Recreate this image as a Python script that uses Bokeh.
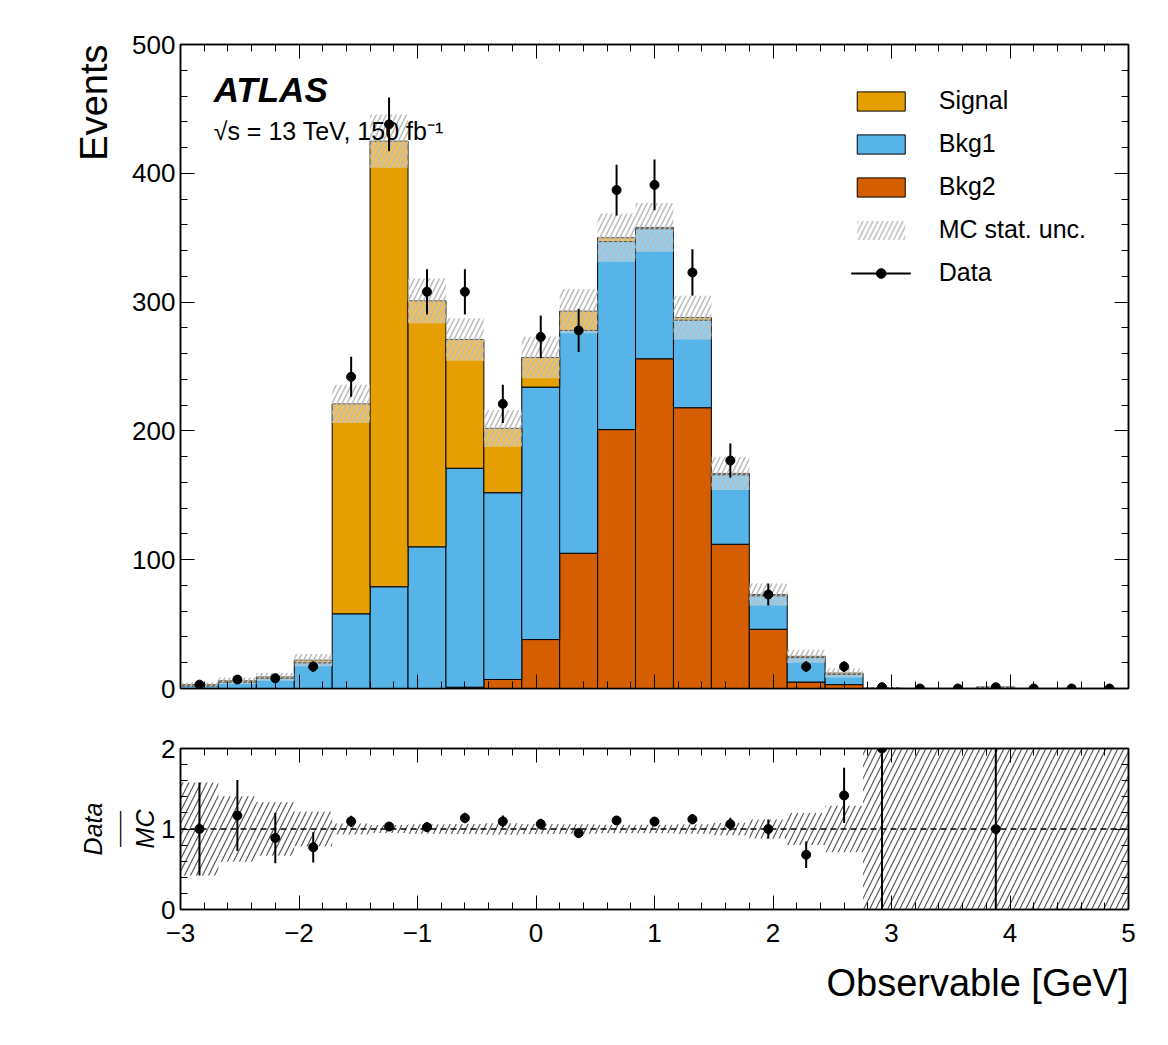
import numpy as np
from bokeh.plotting import figure
from bokeh.layouts import column
from bokeh.models import (Range1d, LinearAxis, Label, Legend, LegendItem, Title,
                          SingleIntervalTicker, Span, CustomJSTickFormatter)
from bokeh.embed import file_html
from bokeh.resources import INLINE

edges = np.linspace(-3, 5, 26)
bkg2 = [0, 0, 0, 0, 0, 0, 0, 1, 7, 38, 105, 201, 256, 218, 112, 46, 5, 3, 0, 0, 0, 0, 0, 0, 0]
bkg1 = [2, 5, 8, 20, 58, 79, 110, 170, 145, 196, 173, 146, 101, 68, 54, 26, 19, 8, 0.5, 0, 0, 1, 0, 0, 0]
signal = [1, 1, 1, 2, 163, 346, 191, 100, 50, 23, 15, 3, 1, 2, 1, 1, 1, 1, 0, 0, 0, 0, 0, 0, 0]
data = [3, 7, 8, 17, 242, 438, 308, 308, 221, 273, 278, 387, 391, 323, 177, 73, 17, 17, 1, 0, 0, 1, 0, 0, 0]

FONT = "Liberation Sans"
C_SIG, C_B1, C_B2 = "#E69F00", "#56B4E9", "#D55E00"

left, right = edges[:-1], edges[1:]
centers = (left + right) / 2
b2 = np.array(bkg2, float)
b1 = b2 + np.array(bkg1, float)
tot = b1 + np.array(signal, float)
d = np.array(data, float)
unc = np.sqrt(tot)

xr = Range1d(-3, 5)
blank = CustomJSTickFormatter(code="return ''")


def style_axis(ax, labels=True):
    ax.major_tick_in = 14
    ax.major_tick_out = 0
    ax.minor_tick_in = 7
    ax.minor_tick_out = 0
    ax.axis_line_width = 1.5
    ax.major_label_text_font = FONT
    ax.major_label_text_font_size = "26px"
    ax.major_label_text_color = "black"
    if not labels:
        ax.formatter = blank
        ax.major_label_standoff = 0


def make_fig(height, yr, yint, top, bottom, xlabels):
    f = figure(width=1150, height=height, x_range=xr, y_range=yr,
               output_backend="svg", toolbar_location=None,
               min_border_left=180, min_border_right=22, min_border_top=top,
               min_border_bottom=bottom)
    f.xaxis.ticker = SingleIntervalTicker(interval=1, num_minor_ticks=5)
    f.yaxis.ticker = SingleIntervalTicker(interval=yint, num_minor_ticks=5)
    style_axis(f.xaxis[0], xlabels)
    style_axis(f.yaxis[0])
    f.xaxis[0].major_label_standoff = 14
    up = LinearAxis(ticker=SingleIntervalTicker(interval=1, num_minor_ticks=5))
    rt = LinearAxis(ticker=SingleIntervalTicker(interval=yint, num_minor_ticks=5))
    style_axis(up, False)
    style_axis(rt, False)
    f.add_layout(up, "above")
    f.add_layout(rt, "right")
    f.xgrid.visible = False
    f.ygrid.visible = False
    f.outline_line_color = "black"
    f.outline_line_width = 1.5
    return f


def title(text, align, size, style="normal", standoff=10):
    return Title(text=text, align=align, text_font=FONT, text_font_size=size,
                 text_font_style=style, text_color="black", standoff=standoff)


# main panel
p = make_fig(708, Range1d(0, 500), 100, 44, 20, False)

r_b2 = p.quad(left=left, right=right, bottom=0, top=b2, fill_color=C_B2, line_color="black", line_width=1)
r_b1 = p.quad(left=left, right=right, bottom=b2, top=b1, fill_color=C_B1, line_color="black", line_width=1)
r_sig = p.quad(left=left, right=right, bottom=b1, top=tot, fill_color=C_SIG, line_color="black", line_width=1)
r_unc = p.quad(left=left, right=right, bottom=np.maximum(tot - unc, 0), top=tot + unc,
               fill_color="white", fill_alpha=0.35, line_alpha=0, hatch_pattern="/",
               hatch_color="#bbbbbb", hatch_scale=10, hatch_weight=1.5)
r_err = p.segment(x0=centers, x1=centers, y0=d - np.sqrt(d), y1=d + np.sqrt(d), line_color="black", line_width=2)
r_dat = p.scatter(centers, d, size=9, color="black")

legend = Legend(items=[
    LegendItem(label="Signal", renderers=[r_sig]),
    LegendItem(label="Bkg1", renderers=[r_b1]),
    LegendItem(label="Bkg2", renderers=[r_b2]),
    LegendItem(label="MC stat. unc.", renderers=[r_unc]),
    LegendItem(label="Data", renderers=[r_err, r_dat]),
], location="top_right", margin=32, border_line_alpha=0, background_fill_alpha=0,
    label_text_font=FONT, label_text_font_size="25px", label_text_color="black",
    glyph_width=60, glyph_height=24, spacing=14, label_standoff=28)
p.add_layout(legend, "center")

p.add_layout(Label(x=-2.72, y=450, text="ATLAS", text_font=FONT, text_font_style="bold italic",
                   text_font_size="35px", text_color="black"))
p.add_layout(Label(x=-2.72, y=422, text="\u221as = 13 TeV, 150 fb\u207b\u00b9", text_font=FONT,
                   text_font_size="25px", text_color="black"))
p.add_layout(title("Events", "right", "38px", "normal", 30), "left")

# ratio panel
r = make_fig(310, Range1d(0, 2), 1, 40, 20, True)

rel = np.where(tot > 1, np.sqrt(np.maximum(tot, 1e-9)) / np.maximum(tot, 1e-9), 10)
r.quad(left=left, right=right, bottom=np.clip(1 - rel, 0, 2), top=np.clip(1 + rel, 0, 2),
       fill_alpha=0, line_alpha=0, hatch_pattern="/", hatch_color="#555555",
       hatch_scale=12, hatch_weight=1.2)
r.add_layout(Span(location=1, dimension="width", line_dash="6 4", line_color="black", line_width=1.5))
ok = (d > 0) & (tot > 0)
mc_ok = np.where(tot > 0, tot, 1)
ratio = d / mc_ok
rerr = np.sqrt(d) / mc_ok
r.segment(x0=centers[ok], x1=centers[ok], y0=(ratio - rerr)[ok], y1=(ratio + rerr)[ok],
          line_color="black", line_width=2)
r.scatter(centers[ok], ratio[ok], size=9, color="black")

r.add_layout(title("MC", "center", "25px", "italic", 0), "left")
r.add_layout(title("\u2014\u2014", "center", "18px", "normal", 0), "left")
r.add_layout(title("Data", "center", "25px", "italic", 0), "left")
r.add_layout(title("Observable [GeV]", "right", "38px", "normal", 30), "below")

layout = column(p, r, spacing=0)
open("out.html", "w").write(file_html(layout, INLINE))
